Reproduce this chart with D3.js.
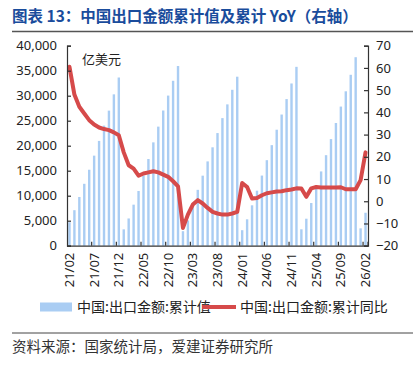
<!DOCTYPE html>
<html><head><meta charset="utf-8">
<script src="https://cdn.jsdelivr.net/npm/d3@7"></script>
<style>
body{margin:0;background:#fff;}
svg{display:block;}
</style></head>
<body>
<svg id="c" width="415" height="366"></svg>
<script>
const categories = [
"21/02","21/03","21/04","21/05","21/06","21/07","21/08","21/09","21/10","21/11","21/12",
"22/01","22/02","22/03","22/04","22/05","22/06","22/07","22/08","22/09","22/10","22/11","22/12",
"23/01","23/02","23/03","23/04","23/05","23/06","23/07","23/08","23/09","23/10","23/11","23/12",
"24/01","24/02","24/03","24/04","24/05","24/06","24/07","24/08","24/09","24/10","24/11","24/12",
"25/01","25/02","25/03","25/04","25/05","25/06","25/07","25/08","25/09","25/10","25/11","25/12",
"26/01","26/02"];
const cumValue = [
4689,7101,9740,12379,15193,18013,20956,24013,27016,30271,33640,
3270,5447,8207,10943,14025,17338,20668,23814,27041,30023,32983,35936,
2900,5064,8219,11173,14008,16861,19678,22526,25517,28265,31180,33800,
3100,5280,8077,11002,14026,17104,20110,23197,26233,29324,32447,35772,
3280,5399,8535,11691,14853,18105,21322,24541,27826,30880,34183,37700,
3470,6590];
const cumYoY = [
60.5,48,42.5,39.5,36.5,34.5,33.2,32.5,32,31,29.7,
22,16.2,14.7,11.5,12.5,13,13.5,13,12,11,9,6.7,
-12,-6,-1.5,0.5,-1,-3,-4.8,-5.5,-6,-6,-5.5,-4.8,
8.2,6.4,1.2,1.5,2.7,3.6,4.0,4.4,4.5,5.0,5.3,5.8,
5.7,2.0,5.8,6.4,6.2,6.2,6.2,6.2,6.3,5.4,5.4,5.4,
9.5,22];
const leftTicks = [0,5000,10000,15000,20000,25000,30000,35000,40000];
const rightTicks = [-20,-10,0,10,20,30,40,50,60,70];
const xLabelEvery = 5;

const svg = d3.select("#c");
const L = 67, R = 368, T = 45.7, B = 245.7;
const blue = "#aacdf3", red = "#d64a4a";
const cjk = "'Noto Sans CJK SC','Noto Sans',sans-serif";
const num = "'Noto Sans','DejaVu Sans',sans-serif";

// title
svg.append("text").attr("x",12).attr("y",22).attr("font-family",cjk).attr("font-weight","bold")
  .attr("font-size","15.5px").attr("fill","#1a4c9c").text("图表 13：中国出口金额累计值及累计 YoY（右轴）");
svg.append("line").attr("x1",12).attr("x2",413).attr("y1",31.5).attr("y2",31.5).attr("stroke","#555").attr("stroke-width",1.3);

const x = d3.scaleBand().domain(categories).range([L,R]).padding(0);
const yL = d3.scaleLinear().domain([0,40000]).range([B,T]);
const yR = d3.scaleLinear().domain([-20,70]).range([B,T]);
const bw = 2.4;

// bars
svg.append("g").selectAll("rect").data(categories.map((c,i)=>({c,v:cumValue[i]})).filter(d=>d.v!=null))
  .join("rect").attr("x",d=>x(d.c)+x.bandwidth()/2-bw/2).attr("width",bw)
  .attr("y",d=>yL(d.v)).attr("height",d=>yL(0)-yL(d.v)).attr("fill",blue);

// line
const line = d3.line().defined(d=>d.v!=null).x(d=>x(d.c)+x.bandwidth()/2).y(d=>yR(d.v));
svg.append("path").datum(categories.map((c,i)=>({c,v:cumYoY[i]})))
  .attr("d",line).attr("fill","none").attr("stroke",red).attr("stroke-width",4)
  .attr("stroke-linejoin","round").attr("stroke-linecap","round");

// left axis
const gl = svg.append("g").attr("transform",`translate(${L},0)`)
  .call(d3.axisLeft(yL).tickValues(leftTicks).tickSize(-4).tickPadding(10).tickFormat(d3.format(",")));
// right axis
const gr = svg.append("g").attr("transform",`translate(${R},0)`)
  .call(d3.axisRight(yR).tickValues(rightTicks).tickSize(-4).tickPadding(8));
// x axis
const xa = d3.axisBottom(x).tickValues(categories.filter((c,i)=>i%xLabelEvery===0)).tickSize(0).tickPadding(0);
const gx = svg.append("g").attr("transform",`translate(0,${B})`).call(xa);
// boundary ticks every 5 categories (inside)
const tickPos = categories.map((c,i)=>i).filter(i=>i%xLabelEvery===0 && i>0).map(i=>x(categories[i]));
tickPos.push(R);
svg.append("g").selectAll("line").data(tickPos).join("line")
  .attr("x1",d=>d).attr("x2",d=>d).attr("y1",B).attr("y2",B-4).attr("stroke","#333").attr("stroke-width",1.2);

[gl,gr,gx].forEach(g=>{
  g.select(".domain").attr("stroke","#333").attr("stroke-width",1.2);
  g.selectAll(".tick line").attr("stroke","#333").attr("stroke-width",1.2);
  g.selectAll("text").attr("font-family",num).attr("font-size","13px").attr("fill","#222");
});
gx.selectAll(".tick text").attr("transform","rotate(-90)").attr("text-anchor","end")
  .attr("dy","0.35em").attr("x",-7).attr("y",0);

// unit
svg.append("text").attr("x",82).attr("y",64).attr("font-family",cjk).attr("font-size","13px").attr("fill","#222").text("亿美元");

// legend
svg.append("rect").attr("x",40).attr("y",302.5).attr("width",32).attr("height",9).attr("fill",blue);
svg.append("text").attr("x",77).attr("y",312).attr("font-family",cjk).attr("font-size","14px").attr("fill","#222").text("中国:出口金额:累计值");
svg.append("line").attr("x1",202).attr("x2",236).attr("y1",307).attr("y2",307).attr("stroke",red).attr("stroke-width",4);
svg.append("text").attr("x",240).attr("y",312).attr("font-family",cjk).attr("font-size","14px").attr("fill","#222").text("中国:出口金额:累计同比");

// footer
svg.append("line").attr("x1",12).attr("x2",413).attr("y1",333).attr("y2",333).attr("stroke","#444").attr("stroke-width",1);
svg.append("text").attr("x",12).attr("y",352).attr("font-family",cjk).attr("font-size","14.5px").attr("fill","#333").text("资料来源：国家统计局，爱建证券研究所");
</script>
</body></html>
